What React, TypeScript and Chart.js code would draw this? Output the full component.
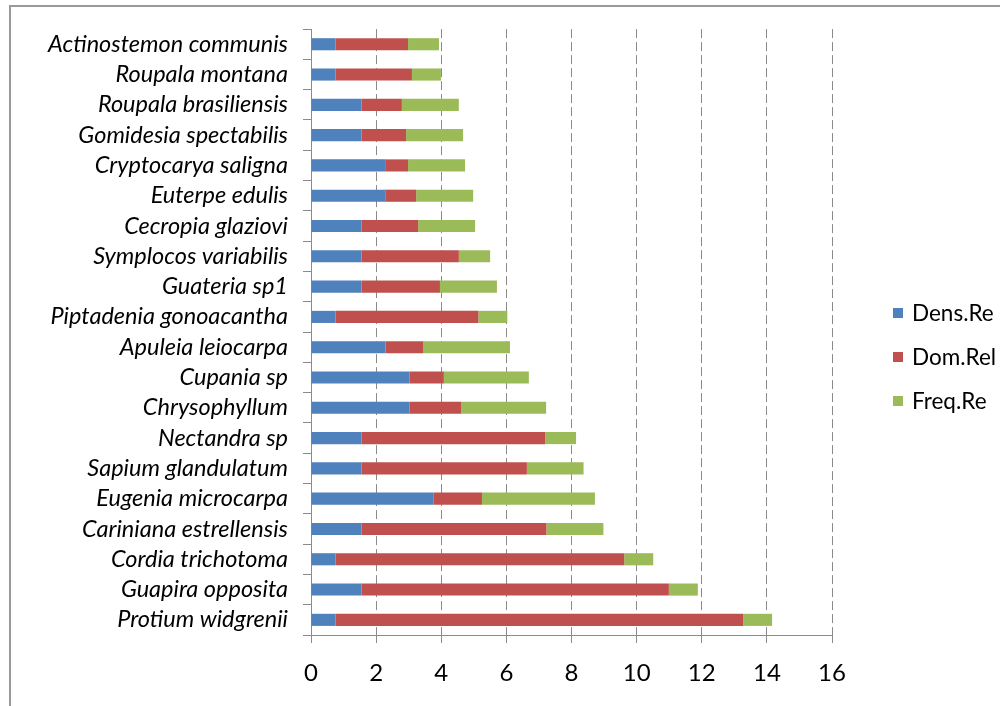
import React, { useEffect, useRef } from "react";
import { Chart, registerables } from "chart.js";

Chart.register(...registerables);

const categories = [
  "Actinostemon communis",
  "Roupala montana",
  "Roupala brasiliensis",
  "Gomidesia spectabilis",
  "Cryptocarya saligna",
  "Euterpe edulis",
  "Cecropia glaziovi",
  "Symplocos variabilis",
  "Guateria sp1",
  "Piptadenia gonoacantha",
  "Apuleia leiocarpa",
  "Cupania sp",
  "Chrysophyllum",
  "Nectandra sp",
  "Sapium glandulatum",
  "Eugenia microcarpa",
  "Cariniana estrellensis",
  "Cordia trichotoma",
  "Guapira opposita",
  "Protium widgrenii",
];

const densRe = [0.75, 0.75, 1.55, 1.55, 2.3, 2.28, 1.55, 1.55, 1.55, 0.75, 2.29, 3.03, 3.03, 1.55, 1.55, 3.77, 1.55, 0.75, 1.55, 0.75];
const domRel = [2.23, 2.35, 1.24, 1.37, 0.68, 0.95, 1.74, 2.99, 2.41, 4.39, 1.15, 1.05, 1.58, 5.64, 5.08, 1.48, 5.68, 8.87, 9.44, 12.52];
const freqRe = [0.95, 0.89, 1.75, 1.75, 1.75, 1.75, 1.75, 0.96, 1.75, 0.89, 2.67, 2.61, 2.61, 0.95, 1.74, 3.47, 1.75, 0.89, 0.89, 0.89];

const seriesNames = ["Dens.Re", "Dom.Rel", "Freq.Re"];
const seriesColors = ["#4F81BD", "#C0504D", "#9BBB59"];
const xMin = 0;
const xMax = 16;
const xStep = 2;

const FONT = "Lato, 'Open Sans', sans-serif";

export default function App() {
  const ref = useRef<HTMLCanvasElement | null>(null);

  useEffect(() => {
    if (!ref.current) return;
    const values = [densRe, domRel, freqRe];
    const chart = new Chart(ref.current, {
      type: "bar",
      data: {
        labels: categories,
        datasets: values.map((v, i) => ({
          label: seriesNames[i],
          data: v,
          backgroundColor: seriesColors[i],
          borderWidth: 0,
          barPercentage: 0.4,
          categoryPercentage: 1,
        })),
      },
      options: {
        indexAxis: "y",
        responsive: false,
        animation: false,
        layout: { padding: { top: 22, right: 168, bottom: 0, left: 0 } },
        plugins: { legend: { display: false }, tooltip: { enabled: false } },
        scales: {
          x: {
            stacked: true,
            min: xMin,
            max: xMax,
            ticks: {
              stepSize: xStep,
              color: "#000",
              font: { family: FONT, size: 24 },
              padding: 16,
            },
            grid: {
              color: "#8a8a8a",
              lineWidth: 1,
              tickLength: 8,
              tickColor: "#8a8a8a",
            },
            border: { display: true, color: "#8a8a8a", width: 1, dash: [9, 4] },
            afterFit: (s: any) => {
              s.height = 71;
            },
          },
          y: {
            stacked: true,
            ticks: {
              color: "#000",
              font: { family: FONT, size: 23.5, style: "italic" },
              padding: 15,
              autoSkip: false,
            },
            grid: {
              offset: true,
              drawOnChartArea: false,
              tickLength: 8,
              color: "#8a8a8a",
            },
            border: { display: true, color: "#8a8a8a", width: 1 },
            afterFit: (s: any) => {
              s.width = 311;
            },
          },
        },
      },
    });
    return () => chart.destroy();
  }, []);

  const legendY = [313, 357, 401];

  return (
    <div style={{ position: "absolute", left: 0, top: 0, width: 1000, height: 706, background: "#fff", overflow: "hidden" }}>
      <div
        style={{
          position: "absolute",
          left: 9,
          top: 5,
          width: 1100,
          height: 800,
          borderTop: "2px solid #9a9a9a",
          borderLeft: "2px solid #9a9a9a",
        }}
      />
      <canvas ref={ref} width={1000} height={706} style={{ position: "absolute", left: 0, top: 0 }} />
      {seriesNames.map((name, i) => (
        <div key={name}>
          <div
            style={{
              position: "absolute",
              left: 893,
              top: legendY[i] - 5,
              width: 10,
              height: 10,
              background: seriesColors[i],
            }}
          />
          <div
            style={{
              position: "absolute",
              left: 912,
              top: legendY[i] - 14,
              height: 28,
              lineHeight: "28px",
              fontFamily: FONT,
              fontSize: 22.5,
              color: "#000",
              whiteSpace: "nowrap",
            }}
          >
            {name}
          </div>
        </div>
      ))}
    </div>
  );
}
